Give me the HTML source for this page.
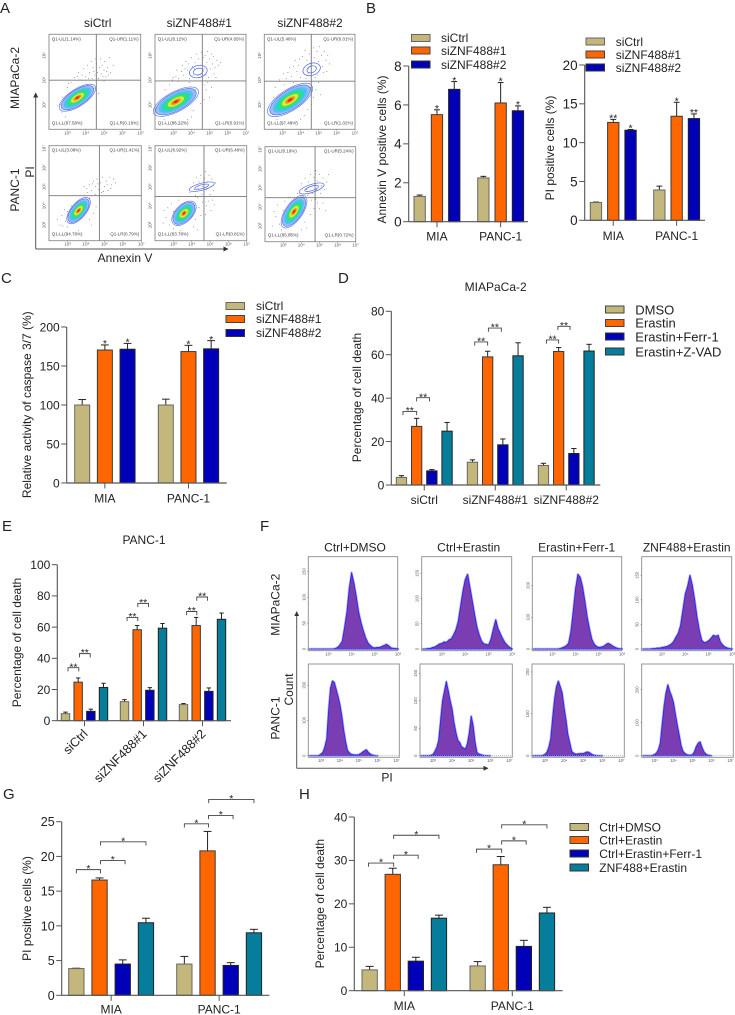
<!DOCTYPE html>
<html lang="en">
<head>
<meta charset="utf-8">
<title>ZNF488 knockdown figure panels</title>
<style>
html,body{margin:0;padding:0;background:#fff;width:735px;height:1015px;overflow:hidden}
svg{position:absolute;left:0;top:0;display:block}
text{font-family:"Liberation Sans",Arial,sans-serif;fill:#222;font-size:12px}
.letter{font-size:15px}
.leg13{font-size:13px}
</style>
</head>
<body>
<svg id="fig" width="735" height="1015" viewBox="0 0 735 1015" xmlns="http://www.w3.org/2000/svg">
  <defs>
    <marker id="arrow" markerWidth="6" markerHeight="6" refX="4.5" refY="2.5" orient="auto" markerUnits="userSpaceOnUse"><path d="M0,0 L5,2.5 L0,5 Z" fill="#333"/></marker>
  </defs>

  <g>
    <text class="letter" x="0" y="13">A</text>
    <text class="letter" x="366" y="13">B</text>
    <text class="letter" x="1" y="283">C</text>
    <text class="letter" x="338" y="283">D</text>
    <text class="letter" x="2" y="531">E</text>
    <text class="letter" x="260" y="531">F</text>
    <text class="letter" x="3" y="799">G</text>
    <text class="letter" x="299" y="799">H</text>
  </g>

  <g id="panelA">
    <text x="97.7" y="27" text-anchor="middle">siCtrl</text>
    <text x="199.3" y="27" text-anchor="middle">siZNF488#1</text>
    <text x="310" y="27" text-anchor="middle">siZNF488#2</text>
    <text transform="translate(19,78) rotate(-90)" text-anchor="middle">MIAPaCa-2</text>
    <text transform="translate(19,190) rotate(-90)" text-anchor="middle">PANC-1</text>
    <text transform="translate(34,172) rotate(-90)" text-anchor="middle">PI</text>
    <text x="125" y="262" text-anchor="middle">Annexin V</text>
    <line x1="35.7" y1="249" x2="35.7" y2="93" stroke="#555" stroke-width="1" marker-end="url(#arrow)"/>
    <line x1="35.7" y1="249" x2="228" y2="249" stroke="#555" stroke-width="1" marker-end="url(#arrow)"/>
  </g>

  <g id="panelB1">
    <text transform="translate(386,149.5) rotate(-90)" text-anchor="middle">Annexin V positive cells (%)</text>
    <g>
      <rect x="411.5" y="34.5" width="18.5" height="7" fill="#c4b77c" stroke="#666"/>
      <text x="441" y="42">siCtrl</text>
      <rect x="411.5" y="47" width="18.5" height="7" fill="#ff6600" stroke="#444"/>
      <text x="441" y="55">siZNF488#1</text>
      <rect x="411.5" y="61" width="18.5" height="7" fill="#0000b8" stroke="#333"/>
      <text x="441" y="69">siZNF488#2</text>
    </g>
  </g>

  <g id="panelB2">
    <text transform="translate(554,148) rotate(-90)" text-anchor="middle">PI positive cells (%)</text>
    <g>
      <rect x="586" y="38" width="18.5" height="7" fill="#c4b77c" stroke="#666"/>
      <text x="615.7" y="46">siCtrl</text>
      <rect x="586" y="51" width="18.5" height="7" fill="#ff6600" stroke="#444"/>
      <text x="615.7" y="59">siZNF488#1</text>
      <rect x="586" y="64" width="18.5" height="7" fill="#0000b8" stroke="#333"/>
      <text x="615.7" y="72">siZNF488#2</text>
    </g>
  </g>

  <g id="panelC">
    <text transform="translate(31,404.7) rotate(-90)" text-anchor="middle">Relative activity of caspase 3/7 (%)</text>
    <g>
      <rect x="226" y="302.5" width="18.5" height="7" fill="#c4b77c" stroke="#666"/>
      <text x="256" y="310">siCtrl</text>
      <rect x="226" y="315.5" width="18.5" height="7" fill="#ff6600" stroke="#444"/>
      <text x="256" y="323">siZNF488#1</text>
      <rect x="226" y="329.5" width="18.5" height="7" fill="#0000b8" stroke="#333"/>
      <text x="256" y="337">siZNF488#2</text>
    </g>
  </g>

  <g id="panelD">
    <text x="495.7" y="291" text-anchor="middle">MIAPaCa-2</text>
    <text transform="translate(361,397.5) rotate(-90)" text-anchor="middle">Percentage of cell death</text>
    <g>
      <rect x="605.5" y="306" width="18.5" height="7" fill="#c4b77c" stroke="#444"/>
      <text class="leg13" x="635.3" y="314.5">DMSO</text>
      <rect x="605.5" y="319.5" width="18.5" height="7" fill="#ff6600" stroke="#444"/>
      <text class="leg13" x="635.3" y="327.5">Erastin</text>
      <rect x="605.5" y="333" width="18.5" height="7" fill="#0000b8" stroke="#333"/>
      <text class="leg13" x="635.3" y="341.5">Erastin+Ferr-1</text>
      <rect x="605.5" y="348" width="18.5" height="7" fill="#067d9a" stroke="#333"/>
      <text class="leg13" x="635.3" y="356.5">Erastin+Z-VAD</text>
    </g>
  </g>

  <g id="panelE">
    <text x="144" y="544" text-anchor="middle">PANC-1</text>
    <text transform="translate(21,642.5) rotate(-90)" text-anchor="middle">Percentage of cell death</text>
  </g>

  <g id="panelF">
    <text x="355" y="551.7" text-anchor="middle">Ctrl+DMSO</text>
    <text x="468.7" y="551.7" text-anchor="middle">Ctrl+Erastin</text>
    <text x="576.7" y="551.7" text-anchor="middle">Erastin+Ferr-1</text>
    <text x="686.7" y="551.7" text-anchor="middle">ZNF488+Erastin</text>
    <text transform="translate(279.7,604.7) rotate(-90)" text-anchor="middle">MIAPaCa-2</text>
    <text transform="translate(279.7,718) rotate(-90)" text-anchor="middle">PANC-1</text>
    <text transform="translate(293,689.5) rotate(-90)" text-anchor="middle">Count</text>
    <text x="387" y="781.7" text-anchor="middle">PI</text>
    <line x1="296.7" y1="768.3" x2="296.7" y2="611.7" stroke="#555" stroke-width="1" marker-end="url(#arrow)"/>
    <line x1="296.7" y1="768.3" x2="488" y2="768.3" stroke="#555" stroke-width="1" marker-end="url(#arrow)"/>
  </g>

  <g id="panelG">
    <text transform="translate(31,908.5) rotate(-90)" text-anchor="middle">PI positive cells (%)</text>
  </g>

  <g id="panelH">
    <text transform="translate(324,903.7) rotate(-90)" text-anchor="middle">Percentage of cell death</text>
    <g>
      <rect x="570" y="823.5" width="18.5" height="7" fill="#c4b77c" stroke="#444"/>
      <text x="599.3" y="831.5">Ctrl+DMSO</text>
      <rect x="570" y="836.5" width="18.5" height="7" fill="#ff6600" stroke="#444"/>
      <text x="599.3" y="844.5">Ctrl+Erastin</text>
      <rect x="570" y="850" width="18.5" height="7" fill="#0000b8" stroke="#333"/>
      <text x="599.3" y="858">Ctrl+Erastin+Ferr-1</text>
      <rect x="570" y="864" width="18.5" height="7" fill="#067d9a" stroke="#333"/>
      <text x="599.3" y="872">ZNF488+Erastin</text>
    </g>
  </g>
</svg>

<script>
/* ---------- Bar chart data ---------- */
const groupsMiaPanc = ['MIA', 'PANC-1'];
const groupsSi = ['siCtrl', 'siZNF488#1', 'siZNF488#2'];

const annexinTicks = [0, 2, 4, 6, 8];
const annexinValues = [[1.3, 5.5, 6.8], [2.25, 6.1, 5.7]];
const annexinErrTops = [[1.37, 5.75, 7.2], [2.33, 7.15, 5.95]];
const annexinStars = [['', '*', '*'], ['', '*', '*']];

const piBTicks = [0, 5, 10, 15, 20];
const piBValues = [[2.3, 12.6, 11.6], [3.9, 13.4, 13.1]];
const piBErrTops = [[2.35, 13, 11.7], [4.4, 15.2, 13.7]];
const piBStars = [['', '**', '*'], ['', '*', '**']];

const caspaseTicks = [0, 50, 100, 150, 200];
const caspaseValues = [[100, 170.5, 171.5], [100, 168.5, 172]];
const caspaseErrTops = [[107, 177, 179], [107.5, 176.5, 182.5]];
const caspaseStars = [['', '*', '*'], ['', '*', '*']];

const miaDeathTicks = [0, 20, 40, 60, 80];
const miaDeathValues = [[3.5, 27, 6.5, 24.8], [10.5, 59, 18.5, 59.5], [9, 61.5, 14.5, 61.7]];
const miaDeathErrTops = [[4.3, 30.7, 7.1, 28.8], [11.6, 61.6, 21.2, 65.5], [10, 63.3, 16.8, 64.8]];
const miaDeathBrackets = [[0, 0.1, 1, 33.9, '**'], [0, 1, 1.85, 40.2, '**'], [1, 0.15, 1, 65.9, '**'], [1, 1.05, 1.9, 72.3, '**'], [2, 0.2, 1, 66.8, '**'], [2, 0.95, 1.75, 73.1, '**']];

const pancDeathTicks = [0, 20, 40, 60, 80, 100];
const pancDeathValues = [[4.5, 24.7, 6, 21.3], [12.2, 58.3, 19.5, 59.3], [10.3, 61, 18.8, 65]];
const pancDeathErrTops = [[5.5, 27.4, 7.4, 24], [13.5, 61, 21.2, 62.3], [11, 66.2, 21, 69]];
const pancDeathBrackets = [[0, 0.2, 1.05, 34, '**'], [0, 1.1, 1.95, 43, '**'], [1, 0.2, 1.05, 66.2, '**'], [1, 1.05, 1.9, 75.2, '**'], [2, 0.25, 1.05, 70, '**'], [2, 1.05, 1.9, 79.3, '**']];

const piGTicks = [0, 5, 10, 15, 20, 25];
const piGValues = [[3.85, 16.6, 4.5, 10.45], [4.5, 20.8, 4.3, 9]];
const piGErrTops = [[3.9, 16.9, 5.1, 11.1], [5.6, 23.6, 4.7, 9.5]];
const piGBrackets = [[0, 0, 1.04, 18.1, '*'], [0, 1.04, 2.1, 19.4, '*'], [0, 1.04, 3, 22.1, '*'], [1, 0, 1.04, 24.7, '*'], [1, 1.04, 2.1, 25.9, '*'], [1, 1.05, 3, 28.2, '*']];

const deathHTicks = [0, 10, 20, 30, 40];
const deathHValues = [[4.8, 26.8, 6.8, 16.7], [5.7, 29, 10.2, 17.9]];
const deathHErrTops = [[5.6, 28.2, 7.7, 17.4], [6.7, 30.9, 11.6, 19.2]];
const deathHBrackets = [[0, -0.05, 1.04, 29.4, '*'], [0, 1.04, 2.1, 31.2, '*'], [0, 1.04, 3, 35.8, '*'], [1, -0.05, 1.04, 32.6, '*'], [1, 1.04, 2.1, 34.5, '*'], [1, 1.04, 3, 38.2, '*']];

/* ---------- Flow cytometry data (log10 units) ---------- */
const flowTitles = ['sictrl-mia', 'siznf1-mia', 'siznf2-mia', 'sictrl-panc', 'siznf1-panc', 'siznf2-panc'];
const flowPercents = [
  [1.14, 1.11, 97.58, 0.19], [8.12, 4.65, 86.32, 0.91], [5.46, 6.01, 87.46, 1.02],
  [3.08, 1.41, 94.78, 0.79], [8.92, 6.48, 83.78, 0.81], [8.19, 5.24, 85.86, 0.72]
];
const flowGates = [[4.58, 4.99], [4.6, 4.96], [4.59, 4.95], [4.73, 4.53], [4.67, 4.49], [4.76, 4.48]];
const flowPeaks = [[3.55, 4.28], [3.15, 4.12], [3.42, 4.19], [3.6, 3.75], [3.58, 3.61], [3.6, 3.75]];
const flowUpperPeaks = [null, [4.38, 5.34], [4.61, 5.43], null, [4.55, 5.0], [4.57, 4.96]];
const flowDots = [
  [[3.4,5.1],[3.6,5.3],[3.7,5.0],[3.9,5.45],[4.0,5.15],[4.1,5.6],[4.2,5.3],[4.3,5.75],[4.35,5.05],[4.4,5.5],[4.5,5.2],[4.6,5.65],[4.65,5.3],[4.7,5.05],[4.75,5.5],[4.8,5.85],[4.85,5.25],[4.9,5.6],[5.0,5.4],[5.05,5.75],[5.1,5.15],[5.2,5.5],[5.3,5.9],[5.35,5.3],[5.5,5.6],[5.0,4.95],[2.6,4.0],[2.7,3.7],[3.0,4.7],[2.9,3.5],[4.1,4.8],[4.3,4.4],[3.2,4.9],[3.8,5.2],[4.15,5.05],[4.45,5.35],[4.55,5.85],[4.95,5.15],[5.15,5.35],[5.25,5.2],[3.55,5.15],[3.05,4.85],[2.75,4.3],[2.45,3.95],[4.45,4.65],[4.7,4.45]],
  [[3.0,5.1],[3.2,5.4],[3.3,5.05],[3.5,5.6],[3.55,5.2],[3.7,5.75],[3.8,5.4],[3.9,5.05],[4.0,5.9],[4.05,5.55],[4.1,5.2],[4.2,5.7],[4.3,6.05],[4.4,5.85],[4.5,5.6],[4.55,6.1],[4.65,5.9],[4.7,5.45],[4.75,6.0],[4.8,5.2],[4.85,5.7],[4.9,6.15],[5.0,5.85],[5.05,5.45],[5.1,6.05],[5.15,5.65],[5.2,5.95],[5.3,5.5],[5.4,5.8],[5.5,5.6],[5.6,5.7],[4.7,4.8],[4.8,4.6],[4.9,4.9],[5.1,4.7],[5.0,4.3],[4.7,4.2],[2.4,4.1],[2.6,3.6],[2.5,3.4],[3.1,3.3],[3.6,3.3],[4.0,3.5],[3.3,4.95],[3.9,4.9],[4.2,4.6],[2.55,4.6],[2.8,4.8],[2.95,5.0],[3.15,5.15],[3.45,5.35],[3.65,5.45],[3.85,5.65],[4.15,5.45],[4.35,5.2],[4.45,5.1],[4.95,5.1],[5.25,5.25],[5.35,5.1],[4.3,4.3],[4.5,4.05],[4.1,3.75],[3.8,3.4],[3.3,3.2]],
  [[3.2,5.05],[3.4,5.5],[3.5,5.15],[3.7,5.8],[3.8,5.35],[3.9,5.6],[4.0,5.1],[4.1,5.95],[4.2,5.5],[4.25,6.2],[4.35,5.8],[4.4,5.25],[4.5,6.05],[4.55,5.65],[4.7,6.3],[4.75,5.9],[4.85,5.5],[4.9,6.15],[5.0,5.75],[5.05,6.35],[5.15,6.0],[5.2,5.55],[5.3,6.15],[5.4,5.8],[5.5,6.0],[5.6,5.65],[4.8,5.1],[5.0,4.9],[4.85,4.6],[5.1,4.4],[4.7,4.3],[2.5,4.3],[2.4,3.7],[2.7,3.4],[3.0,3.2],[3.5,3.25],[4.0,3.4],[4.4,3.8],[3.1,4.8],[3.6,4.9],[2.6,4.7],[2.85,5.0],[3.05,5.25],[3.3,5.3],[3.6,5.55],[3.95,5.85],[4.15,5.3],[4.45,5.45],[4.3,5.05],[5.25,5.3],[5.45,5.35],[4.95,5.2],[4.55,4.7],[4.6,4.0],[4.2,3.55],[3.75,3.3]],
  [[3.9,5.0],[4.1,4.7],[4.2,5.1],[4.3,4.8],[4.4,5.3],[4.5,4.6],[4.5,5.0],[4.6,5.4],[4.7,4.85],[4.8,5.2],[4.85,4.7],[4.9,5.5],[5.0,5.0],[5.1,5.3],[5.2,4.8],[5.3,5.5],[5.4,5.1],[5.5,5.4],[5.6,5.2],[4.2,4.4],[2.7,3.5],[2.9,3.2],[2.6,3.0],[3.0,2.9],[3.0,3.7],[3.2,4.0],[3.6,2.7],[4.2,3.3],[4.4,3.6],[2.85,3.8],[4.05,4.9],[4.35,5.15],[4.65,5.15],[4.95,4.75],[5.15,5.1],[5.35,4.9],[2.45,3.3],[2.75,2.95],[4.3,3.0],[4.55,3.95],[3.1,3.35]],
  [[3.9,4.7],[4.1,5.2],[4.2,4.55],[4.25,5.5],[4.35,4.9],[4.4,5.25],[4.5,5.6],[4.55,4.6],[4.6,5.0],[4.7,5.45],[4.75,5.8],[4.8,4.85],[4.85,5.25],[4.95,5.6],[5.0,4.6],[5.05,5.0],[5.1,5.4],[5.2,4.8],[5.3,5.2],[5.4,4.5],[4.6,4.2],[4.8,4.0],[4.9,4.25],[4.4,3.9],[2.6,3.4],[2.8,3.0],[3.0,3.7],[3.0,2.8],[2.9,4.1],[3.3,4.3],[4.2,3.3],[4.1,2.9],[4.5,3.5],[3.4,2.7],[2.7,3.9],[4.15,4.85],[4.3,4.45],[5.15,4.3],[5.25,4.05],[5.05,3.75],[4.75,3.55],[2.45,3.1],[2.5,3.75],[4.3,2.75]],
  [[3.8,4.7],[4.0,5.2],[4.1,4.55],[4.2,5.5],[4.3,4.9],[4.4,5.3],[4.5,5.7],[4.6,4.7],[4.65,5.1],[4.7,5.55],[4.8,5.9],[4.85,4.9],[4.9,5.35],[5.0,5.7],[5.05,4.7],[5.1,5.1],[5.2,5.5],[5.3,4.9],[5.4,5.3],[5.5,5.7],[4.9,4.2],[4.7,3.9],[4.8,4.4],[5.0,3.9],[2.6,3.5],[2.8,3.1],[3.0,3.8],[2.9,2.8],[3.1,4.3],[3.3,4.5],[4.2,3.2],[4.0,2.8],[2.4,3.0],[3.4,2.6],[2.7,4.1],[4.35,4.6],[4.55,4.35],[5.2,4.2],[5.35,3.8],[4.5,3.6],[2.5,3.75],[4.3,2.9]]
];
const flowXTicks = ['10³', '10⁴', '10⁵', '10⁶', '10⁷'];
const flowXTickLogs = [3, 4, 5, 6, 7];

/* ---------- Histogram data: counts per 0.1 log10 bin ---------- */
const histRow1Start = 2.2;
const histRow2Start = 2.4;
const histDmsoMia = [0,0,0,0,0,0,0,0,0,0,0,1,3,8,15,42,72,118,148,128,102,72,52,36,22,12,7,3,2,3,3,5,7,9,6,2,1,1,0];
const histErastinMia = [0,0,1,1,3,4,7,10,11,14,13,18,20,28,38,55,85,115,138,148,122,95,68,43,27,15,10,9,8,20,40,58,40,30,20,12,7,3,0];
const histFerrMia = [0,0,0,0,0,0,0,0,0,0,0,1,3,6,10,18,55,120,190,235,225,195,150,100,62,30,15,8,5,6,8,14,18,14,9,5,2,1,0];
const histZnfMia = [0,0,0,0,1,1,2,2,3,4,5,7,10,15,24,32,48,80,112,128,150,130,100,65,38,18,13,14,17,22,28,26,28,14,8,4,2,1,0];
const histDmsoPanc = [0,0,0,0,0,1,5,10,25,48,130,192,212,208,188,168,145,112,72,40,15,8,4,3,2,2,3,6,10,14,17,10,5,2,1,0,0];
const histErastinPanc = [0,0,0,0,0,1,2,8,15,28,65,100,118,135,118,100,85,60,42,28,24,16,14,12,22,42,72,55,25,6,3,2,1,0,0,0,0];
const histFerrPanc = [0,0,0,0,0,1,3,8,20,40,90,135,165,178,165,150,115,85,50,30,10,6,4,4,5,5,5,7,9,8,5,2,1,0,0,0,0];
const histZnfPanc = [0,0,0,0,0,1,4,8,18,38,95,150,190,215,195,180,160,125,92,62,30,13,7,3,2,2,3,12,28,38,42,25,12,5,2,1,0];
const histSeries = [histDmsoMia, histErastinMia, histFerrMia, histZnfMia, histDmsoPanc, histErastinPanc, histFerrPanc, histZnfPanc];
const histYMax = [179, 183, 290, 188, 260, 167, 219, 278];
const histYTicks = [[0,50,100,150],[0,50,100,150],[0,100,200],[0,50,100,150],[0,100,200],[0,50,100,150],[0,100,200],[0,100,200]];
const histNames = ['ctrl-dmso-mia','ctrl-erastin-mia','erastin-ferr-mia','znf488-erastin-mia','ctrl-dmso-panc','ctrl-erastin-panc','erastin-ferr-panc','znf488-erastin-panc'];

/* ---------- Drawing ---------- */
const NS = 'http://www.w3.org/2000/svg';
const seriesColors = ['#c4b77c', '#ff6600', '#0000b8', '#067d9a'];
const seriesStrokes = ['#666', '#3a3a3a', '#222', '#222'];

function mk(parent, tag, props, text) {
  const el = document.createElementNS(NS, tag);
  for (const k in props) el.setAttribute(k, props[k]);
  if (text !== undefined) el.textContent = text;
  parent.appendChild(el);
  return el;
}
function tag(el, name) {
  
  
  return el;
}

function barChart(o) {
  const p = document.getElementById(o.id);
  const y = v => o.yBot - (v / o.yMax) * (o.yBot - o.yTop);
  const barLeft = (g, s) => o.first + g * o.pitch + s * o.step;
  const barMid = (g, s) => barLeft(g, s) + o.w / 2;
  const axisColor = '#555';
  const yAxis = mk(p, 'line', {x1: o.x0, x2: o.x0, y1: o.yTop, y2: o.yBot, stroke: axisColor, 'stroke-width': 1.1});
  tag(yAxis, 'y-axis');
  o.ticks.forEach(t => {
    const tk = mk(p, 'line', {x1: o.x0 - 5.5, x2: o.x0, y1: y(t), y2: y(t), stroke: axisColor, 'stroke-width': 1});
    tag(tk, 'y-tick');
    const lb = mk(p, 'text', {x: o.x0 - 7, y: y(t) + o.fs * 0.36, 'text-anchor': 'end', 'font-size': o.fs, style: 'font-size:' + o.fs + 'px'}, String(t));
    tag(lb, 'y-tick-label');
  });
  o.values.forEach((grp, g) => {
    grp.forEach((v, s) => {
      const c = barMid(g, s), top = y(o.tops[g][s]);
      const stem = mk(p, 'line', {x1: c, x2: c, y1: top, y2: y(v), stroke: '#222', 'stroke-width': 1});
      tag(stem, 'error-bar');
      const cap = mk(p, 'line', {x1: c - o.w * 0.26, x2: c + o.w * 0.26, y1: top, y2: top, stroke: '#222', 'stroke-width': 1});
      tag(cap, 'error-cap');
      const r = mk(p, 'rect', {x: barLeft(g, s), y: y(v), width: o.w, height: o.yBot - y(v), fill: seriesColors[s], stroke: seriesStrokes[s], 'stroke-width': 1});
      tag(r, 'bar-' + o.categories[g] + '-' + s);
      const star = o.stars && o.stars[g][s];
      if (star) {
        const st = mk(p, 'text', {x: c, y: top + 2.2, 'text-anchor': 'middle', style: 'font-size:10.5px'}, star);
        tag(st, 'significance-star');
      }
    });
    const n = grp.length;
    const mid = (barLeft(g, 0) + barLeft(g, n - 1) + o.w) / 2;
    const tk = mk(p, 'line', {x1: mid, x2: mid, y1: o.yBot, y2: o.yBot + 5.5, stroke: axisColor, 'stroke-width': 1});
    tag(tk, 'x-tick');
    let lb;
    if (o.rotated) {
      lb = mk(p, 'text', {transform: 'translate(' + (mid + 4) + ',' + (o.yBot + 14) + ') rotate(-45)', 'text-anchor': 'end', style: 'font-size:12.6px'}, o.categories[g]);
    } else {
      lb = mk(p, 'text', {x: mid, y: o.labelY, 'text-anchor': 'middle'}, o.categories[g]);
    }
    tag(lb, 'x-tick-label');
  });
  const xAxis = mk(p, 'line', {x1: o.x0, x2: o.xEnd, y1: o.yBot, y2: o.yBot, stroke: axisColor, 'stroke-width': 1.2});
  tag(xAxis, 'x-axis');
  (o.brackets || []).forEach(b => {
    const x1 = barMid(b[0], b[1]), x2 = barMid(b[0], b[2]), by = y(b[3]);
    const br = mk(p, 'path', {d: 'M' + x1 + ',' + (by + 3.7) + 'V' + by + 'H' + x2 + 'V' + (by + 3.7), fill: 'none', stroke: '#444', 'stroke-width': 0.9});
    tag(br, 'significance-bracket');
    const st = mk(p, 'text', {x: (x1 + x2) / 2, y: by + 2.6, 'text-anchor': 'middle', style: 'font-size:10.5px'}, b[4]);
    tag(st, 'significance-star');
  });
}

barChart({id: 'panelB1', x0: 408.7, xEnd: 528, yTop: 66, yBot: 221.7, yMax: 8, ticks: annexinTicks, first: 414, step: 17.3, w: 11.3, pitch: 63.7, categories: groupsMiaPanc, values: annexinValues, tops: annexinErrTops, stars: annexinStars, fs: 13.5, labelY: 240.7});
barChart({id: 'panelB2', x0: 584.7, xEnd: 705, yTop: 65, yBot: 220.3, yMax: 20, ticks: piBTicks, first: 590.3, step: 17.3, w: 11.3, pitch: 63.4, categories: groupsMiaPanc, values: piBValues, tops: piBErrTops, stars: piBStars, fs: 13.5, labelY: 240});
barChart({id: 'panelC', x0: 66.7, xEnd: 226.7, yTop: 327, yBot: 483, yMax: 200, ticks: caspaseTicks, first: 74.7, step: 22.67, w: 15, pitch: 83.6, categories: groupsMiaPanc, values: caspaseValues, tops: caspaseErrTops, stars: caspaseStars, fs: 12, labelY: 502.7});
barChart({id: 'panelD', x0: 391.3, xEnd: 600.3, yTop: 311.3, yBot: 485, yMax: 80, ticks: miaDeathTicks, first: 396.3, step: 15.2, w: 10.3, pitch: 71, categories: groupsSi, values: miaDeathValues, tops: miaDeathErrTops, brackets: miaDeathBrackets, fs: 12, labelY: 504});
barChart({id: 'panelE', x0: 57.3, xEnd: 231, yTop: 564.7, yBot: 720.7, yMax: 100, ticks: pancDeathTicks, first: 61.3, step: 12.67, w: 8.4, pitch: 59, categories: groupsSi, values: pancDeathValues, tops: pancDeathErrTops, brackets: pancDeathBrackets, fs: 12, rotated: true});
barChart({id: 'panelG', x0: 61.7, xEnd: 269.3, yTop: 821.7, yBot: 995.3, yMax: 25, ticks: piGTicks, first: 68.7, step: 23.2, w: 15.3, pitch: 108, categories: groupsMiaPanc, values: piGValues, tops: piGErrTops, brackets: piGBrackets, fs: 12.5, labelY: 1013.5});
barChart({id: 'panelH', x0: 354.3, xEnd: 562.7, yTop: 817, yBot: 990.7, yMax: 40, ticks: deathHTicks, first: 362, step: 23.1, w: 15.3, pitch: 108, categories: groupsMiaPanc, values: deathHValues, tops: deathHErrTops, brackets: deathHBrackets, fs: 12, labelY: 1010});

/* ---------- Panel A ---------- */
const flowFrames = [
  {x: 49, y: 34.3, w: 91.7, h: 95, a: 21, b: 8.5, r: -33, ur: 0},
  {x: 155, y: 34.3, w: 91, h: 95, a: 25, b: 10, r: -28, ur: [9, 6, -15]},
  {x: 264.3, y: 34.3, w: 90.7, h: 95, a: 26, b: 10.5, r: -33, ur: [9, 6, -20]},
  {x: 49, y: 145.7, w: 92.3, h: 95, a: 16, b: 7.5, r: -50, ur: 0},
  {x: 155, y: 145.7, w: 91.7, h: 95, a: 15, b: 8.5, r: -45, ur: [13, 3.5, -15]},
  {x: 265, y: 146.7, w: 90.7, h: 95, a: 19, b: 8.5, r: -55, ur: [13, 4, -18]}
];
const contourLevels = [
  [1.0, 'none', '#4a66e8'], [0.9, '#9cbcf8', '#4a66e8'], [0.76, '#4fc0f0', 'none'],
  [0.62, '#22d8c0', 'none'], [0.5, '#3fe060', 'none'], [0.36, '#d8ee30', 'none'],
  [0.22, '#f59020', 'none'], [0.11, '#ee2020', 'none']
];
(function () {
  const p = document.getElementById('panelA');
  flowFrames.forEach((f, i) => {
    const row2 = i >= 3;
    const lx0 = 2, lx1 = 7, ly0 = row2 ? 2.18 : 3, ly1 = row2 ? 7.14 : 6.85;
    const X = v => f.x + (v - lx0) / (lx1 - lx0) * f.w;
    const Y = v => f.y + f.h - (v - ly0) / (ly1 - ly0) * f.h;
    const g = mk(p, 'g', {});
    tag(g, 'flow-plot-' + flowTitles[i]);
    const frame = mk(g, 'rect', {x: f.x, y: f.y, width: f.w, height: f.h, fill: '#fff', stroke: '#8a8a8a', 'stroke-width': 0.9});
    tag(frame, 'plot-frame');
    flowDots[i].forEach(d => {
      const c = mk(g, 'circle', {cx: X(d[0]), cy: Y(d[1]), r: 0.42, fill: '#555'});
      tag(c, 'event-dot');
    });
    const px = X(flowPeaks[i][0]), py = Y(flowPeaks[i][1]);
    contourLevels.forEach(l => {
      const e = mk(g, 'ellipse', {cx: px, cy: py, rx: f.a * l[0], ry: f.b * l[0], transform: 'rotate(' + f.r + ' ' + px + ' ' + py + ')', fill: l[1], stroke: l[2], 'stroke-width': 0.6});
      tag(e, 'density-contour');
    });
    if (flowUpperPeaks[i]) {
      const ux = X(flowUpperPeaks[i][0]), uy = Y(flowUpperPeaks[i][1]);
      [1, 0.55].forEach(s => {
        const e = mk(g, 'ellipse', {cx: ux, cy: uy, rx: f.ur[0] * s, ry: f.ur[1] * s, transform: 'rotate(' + f.ur[2] + ' ' + ux + ' ' + uy + ')', fill: 'none', stroke: '#4a66e8', 'stroke-width': 0.7});
        tag(e, 'upper-contour');
      });
    }
    const vg = mk(g, 'line', {x1: X(flowGates[i][0]), x2: X(flowGates[i][0]), y1: f.y, y2: f.y + f.h, stroke: '#777', 'stroke-width': 0.9});
    tag(vg, 'vertical-gate');
    const hg = mk(g, 'line', {x1: f.x, x2: f.x + f.w, y1: Y(flowGates[i][1]), y2: Y(flowGates[i][1]), stroke: '#777', 'stroke-width': 0.9});
    tag(hg, 'horizontal-gate');
    const q = flowPercents[i];
    const labels = [['Q1-UL', q[0], f.x + 2.7, f.y + 6, 'start'], ['Q1-UR', q[1], f.x + f.w - 2, f.y + 6, 'end'], ['Q1-LL', q[2], f.x + 2.7, f.y + f.h - 5, 'start'], ['Q1-LR', q[3], f.x + f.w - 2, f.y + f.h - 5, 'end']];
    labels.forEach(l => {
      const t = mk(g, 'text', {x: l[2], y: l[3], 'text-anchor': l[4], style: 'font-size:4.5px;fill:#444'}, l[0] + '(' + l[1].toFixed(2) + '%)');
      tag(t, 'quadrant-label');
    });
    flowXTickLogs.forEach((lg, k) => {
      const tx = mk(g, 'text', {x: X(lg), y: f.y + f.h + 5, 'text-anchor': 'middle', style: 'font-size:4.5px;fill:#555'}, flowXTicks[k]);
      tag(tx, 'x-tick-label');
      const mk1 = mk(g, 'line', {x1: X(lg), x2: X(lg), y1: f.y + f.h, y2: f.y + f.h + 1.2, stroke: '#666', 'stroke-width': 0.5});
      tag(mk1, 'x-tick');
      if (lg >= ly0 && lg <= ly1 && (row2 || lg >= 4) && lg < 7.1 && (row2 || lg <= 6)) {
        const yy = Y(lg);
        const ty = mk(g, 'text', {transform: 'translate(' + (f.x - 3.5) + ',' + yy + ') rotate(-90)', 'text-anchor': 'middle', style: 'font-size:4.5px;fill:#555'}, flowXTicks[k]);
        tag(ty, 'y-tick-label');
      }
    });
  });
})();

/* ---------- Panel F ---------- */
const histFrames = [
  {x: 308.3, w: 89.4}, {x: 421.7, w: 90}, {x: 532.3, w: 89.4}, {x: 641.7, w: 90},
  {x: 308.3, w: 91}, {x: 420, w: 92.3}, {x: 532, w: 92.3}, {x: 641.7, w: 91.6}
];
(function () {
  const p = document.getElementById('panelF');
  const xTickNames = ['10³', '10⁴', '10⁵', '10⁶', '10⁷'];
  histSeries.forEach((counts, i) => {
    const row2 = i >= 4;
    const f = histFrames[i];
    const top = row2 ? 664 : 556.7, bottom = row2 ? 757.3 : 650.7, base = row2 ? 755.7 : 649;
    const l0 = row2 ? 2.32 : 2.14, l1 = row2 ? 7.15 : 5.98;
    const start = row2 ? histRow2Start : histRow1Start;
    const X = v => f.x + (v - l0) / (l1 - l0) * f.w;
    const Y = c => base - c / histYMax[i] * (base - top);
    const g = mk(p, 'g', {});
    tag(g, 'histogram-' + histNames[i]);
    const frame = mk(g, 'rect', {x: f.x, y: top, width: f.w, height: bottom - top, fill: '#fff', stroke: '#8a8a8a', 'stroke-width': 0.9});
    tag(frame, 'plot-frame');
    let d = 'M' + X(start) + ',' + base;
    counts.forEach((c, k) => { d += 'L' + X(start + k * 0.1).toFixed(2) + ',' + Y(c).toFixed(2); });
    d += 'L' + X(start + (counts.length - 1) * 0.1) + ',' + base + 'Z';
    const halo = mk(g, 'path', {d: d, fill: 'none', stroke: '#3a3aff', 'stroke-width': 2.4, 'stroke-opacity': 0.35, 'stroke-linejoin': 'round'});
    tag(halo, 'histogram-edge-halo');
    const area = mk(g, 'path', {d: d, fill: '#7a3db2', stroke: '#2a2ae8', 'stroke-width': 0.9, 'stroke-linejoin': 'round'});
    tag(area, 'histogram-area');
    const bl = mk(g, 'line', {x1: f.x, x2: f.x + f.w, y1: base, y2: base, stroke: '#9a9acc', 'stroke-width': 0.6, 'stroke-dasharray': '1 1'});
    tag(bl, 'baseline');
    const logs = row2 ? [3, 4, 5, 6, 7] : [3, 4, 5, 6];
    logs.forEach((lg, k) => {
      const t = mk(g, 'text', {x: X(lg), y: bottom + 4.8, 'text-anchor': 'middle', style: 'font-size:4.2px;fill:#555'}, xTickNames[k]);
      tag(t, 'x-tick-label');
    });
    histYTicks[i].forEach(v => {
      const t = mk(g, 'text', {transform: 'translate(' + (f.x - 3) + ',' + Y(v) + ') rotate(-90)', 'text-anchor': 'middle', style: 'font-size:4.2px;fill:#555'}, String(v));
      tag(t, 'y-tick-label');
      const m = mk(g, 'line', {x1: f.x - 1.2, x2: f.x, y1: Y(v), y2: Y(v), stroke: '#666', 'stroke-width': 0.5});
      tag(m, 'y-tick');
    });
  });
})();
</script>
</body>
</html>
